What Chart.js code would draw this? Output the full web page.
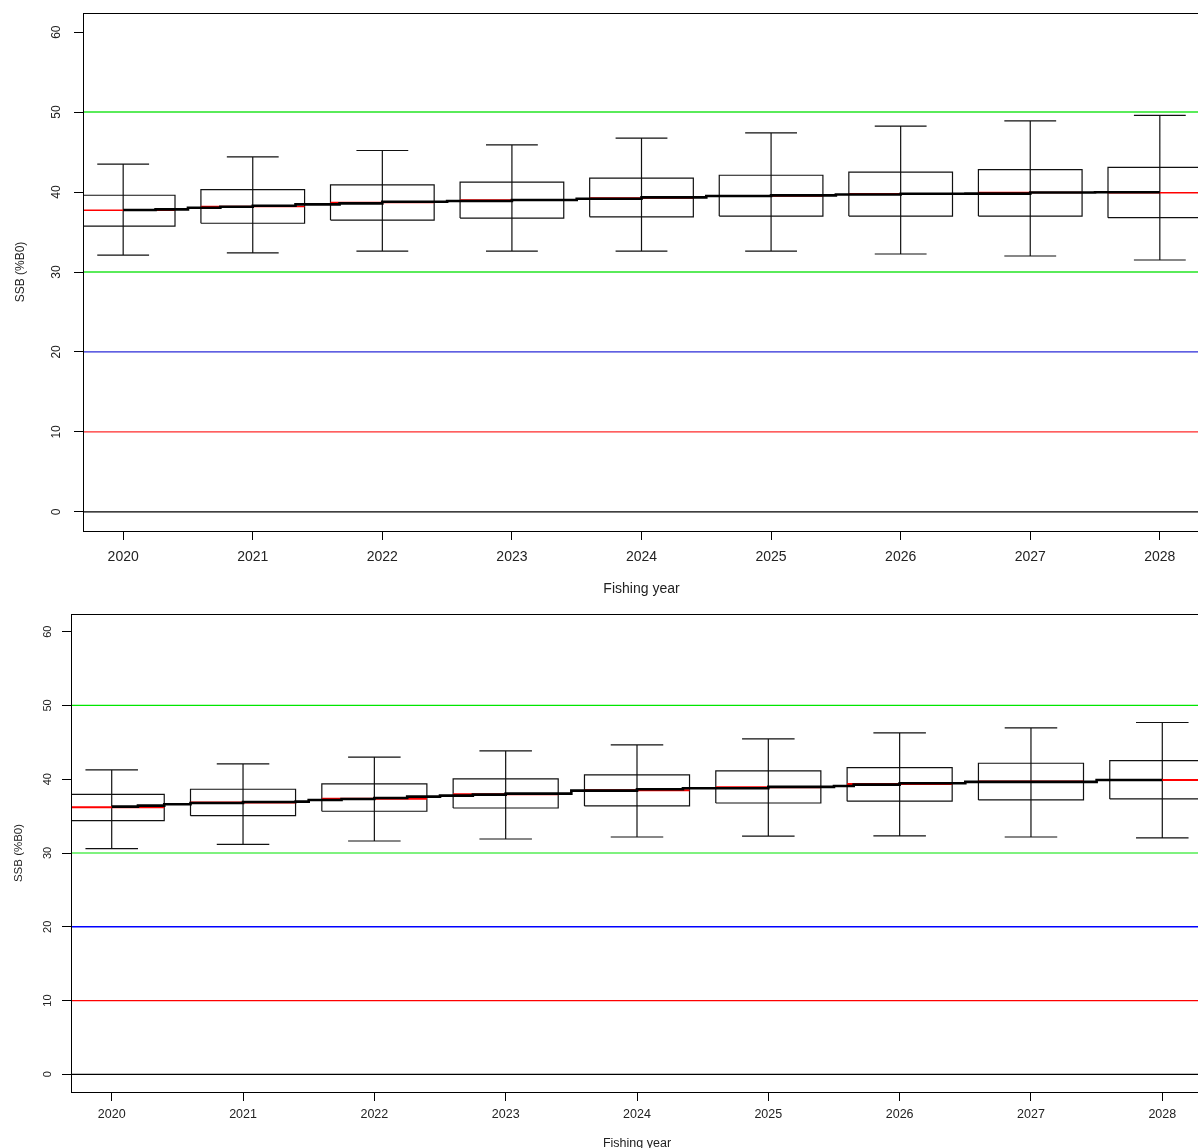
<!DOCTYPE html>
<html>
<head>
<meta charset="utf-8">
<script src="https://cdn.jsdelivr.net/npm/chart.js@4.4.1/dist/chart.umd.min.js"></script>
<style>
  html, body { margin: 0; padding: 0; background: #fff; overflow: hidden; width: 1198px; height: 1148px; }
  .panel { position: absolute; left: 0; }
  #top { top: 0; width: 1204px; height: 600px; }
  #bottom { top: 600px; width: 1206px; height: 560px; }
</style>
</head>
<body>
<div id="top" class="panel"><canvas id="chartTop"></canvas></div>
<div id="bottom" class="panel"><canvas id="chartBottom"></canvas></div>
<script>
// Años de pesca y marcas del eje y
const years = [2020, 2021, 2022, 2023, 2024, 2025, 2026, 2027, 2028];
const yTicks = [0, 10, 20, 30, 40, 50, 60];
const refLevels = [50, 30, 20, 10, 0];

// Panel superior: bigotes, cuartiles y mediana por año
const topLo  = [32.1, 32.4, 32.6, 32.6, 32.6, 32.6, 32.25, 32.0, 31.5];
const topQ1  = [35.75, 36.1, 36.5, 36.75, 36.9, 37.0, 37.0, 37.0, 36.8];
const topMed = [37.72, 38.2, 38.7, 39.0, 39.25, 39.5, 39.78, 39.95, 39.92];
const topQ3  = [39.6, 40.3, 40.9, 41.25, 41.75, 42.1, 42.5, 42.8, 43.1];
const topHi  = [43.5, 44.4, 45.2, 45.9, 46.75, 47.4, 48.25, 48.9, 49.6];
// Panel superior: línea escalonada
const topStepX = [2020, 2020.25, 2020.5, 2020.75, 2021, 2021.33, 2021.67, 2022, 2022.5, 2023, 2023.5, 2024, 2024.5, 2025, 2025.5, 2026, 2026.5, 2027, 2027.5, 2028];
const topStepY = [37.75, 37.84, 38.04, 38.17, 38.29, 38.46, 38.58, 38.79, 38.88, 39.0, 39.17, 39.33, 39.5, 39.58, 39.7, 39.78, 39.8, 39.95, 39.97, 39.97];

// Panel inferior
const botLo  = [30.58, 31.18, 31.63, 31.9, 32.17, 32.3, 32.31, 32.17, 32.04];
const botQ1  = [34.39, 35.06, 35.66, 36.1, 36.38, 36.78, 37.02, 37.19, 37.33];
const botMed = [36.2, 36.85, 37.35, 37.96, 38.5, 38.9, 39.35, 39.68, 39.9];
const botQ3  = [37.96, 38.64, 39.37, 40.04, 40.59, 41.13, 41.58, 42.17, 42.53];
const botHi  = [41.27, 42.08, 42.99, 43.84, 44.66, 45.47, 46.29, 46.97, 47.69];
const botStepX = [2020, 2020.2, 2020.4, 2020.6, 2021, 2021.4, 2021.5, 2021.75, 2022, 2022.25, 2022.5, 2022.75, 2023, 2023.5, 2024, 2024.35, 2025, 2025.5, 2025.65, 2026, 2026.5, 2027.5, 2028];
const botStepY = [36.29, 36.42, 36.6, 36.78, 36.92, 36.97, 37.19, 37.33, 37.46, 37.64, 37.78, 37.91, 38.05, 38.45, 38.65, 38.78, 38.96, 39.09, 39.27, 39.46, 39.64, 39.9, 39.9];

// Límites de los ejes
const xMin = 2019.69, xMax = 2028.31;
const yMin = -2.4, yMax = 62.4;
const FONT = "'Liberation Sans', Arial, sans-serif";

// Marco y etiquetas rotadas del eje y
const framePlugin = {
  id: 'frame',
  afterDraw(chart, args, opts) {
    const ctx = chart.ctx, a = chart.chartArea;
    ctx.save();
    ctx.strokeStyle = '#000';
    ctx.lineWidth = 1;
    ctx.strokeRect(Math.round(a.left) + 0.5, Math.round(a.top) + 0.5,
      Math.round(a.right - a.left), Math.round(a.bottom - a.top));
    const ys = chart.scales.y;
    ctx.fillStyle = '#222';
    ctx.font = opts.font;
    ctx.textAlign = 'center';
    ctx.textBaseline = 'middle';
    yTicks.forEach(function (v) {
      ctx.save();
      ctx.translate(opts.labelX, ys.getPixelForValue(v));
      ctx.rotate(-Math.PI / 2);
      ctx.fillText(String(v), 0, 0);
      ctx.restore();
    });
    ctx.restore();
  }
};

function seg(x0, y0, x1, y1) {
  return [{x: x0, y: y0}, {x: x1, y: y1}, {x: x1, y: null}];
}

function lineSet(data, color, width, extra) {
  return Object.assign({
    data: data, borderColor: color, borderWidth: width,
    pointRadius: 0, fill: false, tension: 0, spanGaps: false, clip: 0
  }, extra || {});
}

function buildDatasets(lo, q1, med, q3, hi, stepX, stepY, st) {
  var boxes = [], whisk = [], meds = [];
  years.forEach(function (yr, i) {
    boxes.push({x: yr - 0.4, y: q1[i]}, {x: yr + 0.4, y: q1[i]}, {x: yr + 0.4, y: q3[i]},
      {x: yr - 0.4, y: q3[i]}, {x: yr - 0.4, y: q1[i]}, {x: yr, y: null});
    whisk = whisk.concat(seg(yr, lo[i], yr, hi[i]), seg(yr - 0.2, lo[i], yr + 0.2, lo[i]),
      seg(yr - 0.2, hi[i], yr + 0.2, hi[i]));
    meds = meds.concat(seg(yr - 0.4, med[i], yr + 0.4, med[i]));
  });
  var step = stepX.map(function (x, i) { return {x: x, y: stepY[i]}; });
  var refColors = [st.green, st.green, st.blue, st.red, '#000'];
  var refWidths = [st.greenW, st.greenW, 1.3, 1.3, 1.3];
  var sets = [
    lineSet(step, '#000', 2.6, {stepped: 'before'}),
    lineSet(meds, '#ff0000', st.medW),
    lineSet(whisk, '#111', 1.2),
    lineSet(boxes, '#111', 1.2)
  ];
  refLevels.forEach(function (v, i) {
    sets.push(lineSet(seg(xMin, v, xMax, v), refColors[i], refWidths[i]));
  });
  return sets;
}

function makeChart(id, sets, cfg) {
  var gridOpts = {display: true, drawOnChartArea: false, drawTicks: true, tickLength: 9, color: '#000', lineWidth: 1};
  return new Chart(document.getElementById(id), {
    type: 'line',
    data: {datasets: sets},
    plugins: [framePlugin],
    options: {
      responsive: true, maintainAspectRatio: false, animation: false, events: [],
      layout: {padding: {top: cfg.padTop, right: cfg.padRight, left: 0, bottom: 0}},
      plugins: {legend: {display: false}, tooltip: {enabled: false},
        frame: {font: cfg.yFont + 'px ' + FONT, labelX: cfg.yLabelX}},
      scales: {
        x: {
          type: 'linear', min: xMin, max: xMax,
          afterBuildTicks: function (s) { s.ticks = years.map(function (v) { return {value: v}; }); },
          afterFit: function (s) { s.height = cfg.xAxisH; s.paddingLeft = 0; s.paddingRight = 0; },
          grid: gridOpts, border: {display: false},
          ticks: {autoSkip: false, maxRotation: 0, padding: cfg.xPad, color: '#222',
            font: {family: FONT, size: cfg.xFont}, callback: function (v) { return String(v); }},
          title: {display: true, text: 'Fishing year', color: '#222',
            font: {family: FONT, size: cfg.xFont}, padding: {top: 0, bottom: cfg.xTitlePad}}
        },
        y: {
          type: 'linear', min: yMin, max: yMax,
          afterBuildTicks: function (s) { s.ticks = yTicks.map(function (v) { return {value: v}; }); },
          afterFit: function (s) { s.width = cfg.yAxisW; },
          grid: gridOpts, border: {display: false},
          ticks: {display: false},
          title: {display: true, text: 'SSB (%B0)', color: '#222',
            font: {family: FONT, size: cfg.yTitleFont}, padding: {top: cfg.yTitlePad, bottom: 0}}
        }
      }
    }
  });
}

// Panel superior
makeChart('chartTop',
  buildDatasets(topLo, topQ1, topMed, topQ3, topHi, topStepX, topStepY,
    {green: 'rgb(90,235,90)', greenW: 2, blue: '#2b2bd8', red: '#ff2a2a', medW: 1.6}),
  {padTop: 13, padRight: 4, xAxisH: 69, yAxisW: 83, xPad: 9, xFont: 14, xTitlePad: 2,
   yFont: 12, yLabelX: 57, yTitleFont: 12, yTitlePad: 13});

// Panel inferior
makeChart('chartBottom',
  buildDatasets(botLo, botQ1, botMed, botQ3, botHi, botStepX, botStepY,
    {green: 'rgb(0,230,0)', greenW: 1.2, blue: '#0000ff', red: '#ff0000', medW: 2}),
  {padTop: 14, padRight: 3, xAxisH: 68, yAxisW: 71, xPad: 6, xFont: 12.5, xTitlePad: 9,
   yFont: 11, yLabelX: 48, yTitleFont: 11.5, yTitlePad: 12});
</script>
</body>
</html>
